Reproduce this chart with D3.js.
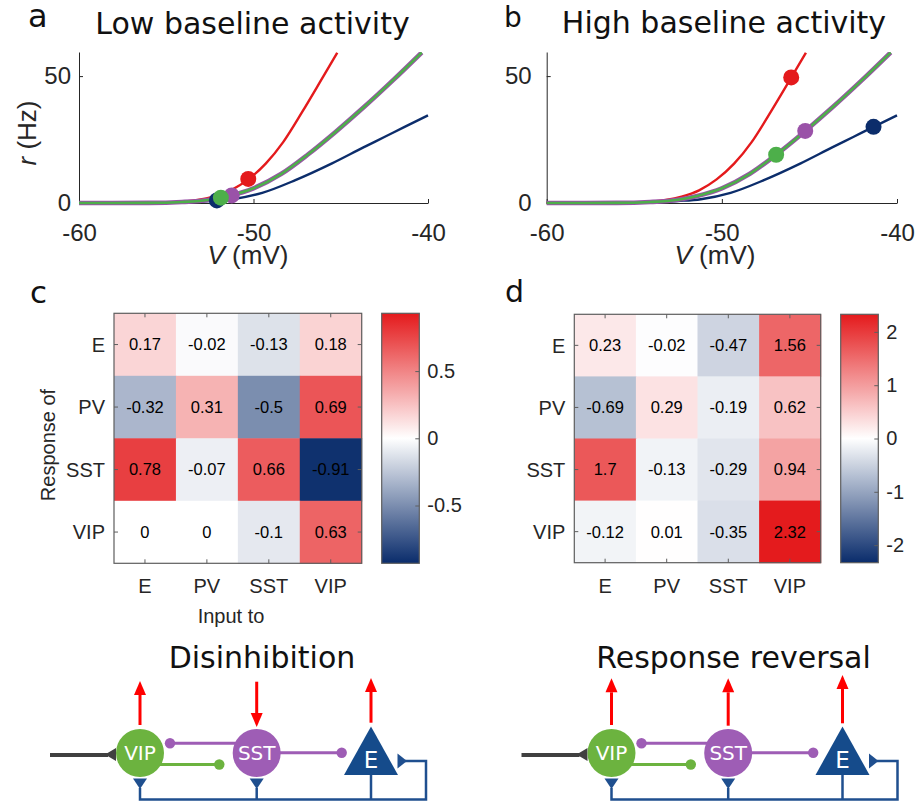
<!DOCTYPE html>
<html>
<head>
<meta charset="utf-8">
<script src="https://cdn.jsdelivr.net/npm/d3@7"></script>
<style>
  body { margin: 0; background: #fff; }
  svg { display: block; }
</style>
</head>
<body>
<div id="fig"></div>
<script>
// ---- data ----
const CELL_TYPES = ["E", "PV", "SST", "VIP"];
const TYPE_COLOR = { E: "#e41a1c", PV: "#0c2d6b", SST: "#9a52a8", VIP: "#4daf4a" };

// transfer curves r(V): voltage (mV) and rate (Hz)
const V_E = [-60, -56, -55, -54.2, -53.2, -52.3, -51.3, -50.3, -49.3, -48.3, -47.2, -46.1, -45.2];
const R_E = [0, 0.05, 0.15, 0.45, 1.2, 2.5, 5.0, 9.3, 15.5, 24.0, 36.0, 48.7, 59.2];
const V_PV = [-60, -56, -54, -52.5, -51.2, -49.5, -47.6, -45.5, -43.7, -42.5, -41.34, -40];
const R_PV = [0, 0.05, 0.3, 0.8, 1.5, 4, 9, 15.6, 21.9, 26, 30, 34.5];
const V_SST = [-60, -56, -54.1, -52.5, -51.4, -50, -48.4, -46.9, -45.3, -43.7, -42, -40.36];
const R_SST = [0, 0.05, 0.4, 1.3, 2.8, 5.8, 11.5, 19, 28, 37.6, 48.4, 59.3];
const V_VIP = [-60, -56, -54.1, -52.5, -51.4, -50, -48.4, -46.9, -45.3, -43.7, -42, -40.36];
const R_VIP = [0, 0.05, 0.4, 1.3, 2.8, 5.8, 11.5, 19, 28, 37.6, 48.4, 59.3];

// operating points (order: PV, SST, VIP, E -> drawing order)
const DOT_TYPES = ["PV", "SST", "VIP", "E"];
const LOW_V = [-52.1, -51.25, -51.87, -50.3];
const LOW_R = [1.0, 3.0, 2.1, 9.5];
const HIGH_V = [-41.34, -45.24, -46.9, -46.04];
const HIGH_R = [30.0, 28.4, 19.0, 49.5];

const V_TICKS = [-60, -50, -40];
const R_TICKS = [0, 50];

// response matrices: rows = response of, columns = input to
const LOW_MATRIX = [
  [0.17, -0.02, -0.13, 0.18],
  [-0.32, 0.31, -0.5, 0.69],
  [0.78, -0.07, 0.66, -0.91],
  [0, 0, -0.1, 0.63]
];
const HIGH_MATRIX = [
  [0.23, -0.02, -0.47, 1.56],
  [-0.69, 0.29, -0.19, 0.62],
  [1.7, -0.13, -0.29, 0.94],
  [-0.12, 0.01, -0.35, 2.32]
];
const LOW_CBAR_TICKS = [-0.5, 0, 0.5];
const HIGH_CBAR_TICKS = [-2, -1, 0, 1, 2];

const AXIS_COL = "#262626";
const SANS = "'Liberation Sans', Arial, sans-serif";
const DEJAVU = "'DejaVu Sans', sans-serif";

const svg = d3.select("#fig").append("svg")
  .attr("width", 915).attr("height", 805)
  .style("font-family", SANS);

const defs = svg.append("defs");

function texto(x, y, s, size, font, opts = {}) {
  return svg.append("text")
    .attr("x", x).attr("y", y)
    .attr("font-size", size)
    .attr("font-family", font)
    .attr("fill", opts.fill || "#111")
    .attr("text-anchor", opts.anchor || "start")
    .text(s);
}

// ---- panels a, b ----
function panelCurvas(left, right, yPad, dotsV, dotsR, clipId) {
  const x = d3.scaleLinear().domain([-60, -40]).range([left, right]);
  const y = d3.scaleLinear().domain([0, 59.5]).range([203, 52]);

  const gx = svg.append("g").attr("transform", "translate(0,203)")
    .call(d3.axisBottom(x).tickValues(V_TICKS).tickSizeInner(-4).tickSizeOuter(0)
      .tickPadding(21).tickFormat(d => String(d)));
  const gy = svg.append("g").attr("transform", `translate(${left},0)`)
    .call(d3.axisLeft(y).tickValues(R_TICKS).tickSizeInner(-4).tickSizeOuter(0)
      .tickPadding(yPad).tickFormat(d => String(d)));
  [gx, gy].forEach(g => {
    g.attr("font-family", SANS).attr("font-size", 24);
    g.selectAll("path, line").attr("stroke", AXIS_COL);
    g.selectAll("text").attr("fill", AXIS_COL);
  });

  defs.append("clipPath").attr("id", clipId)
    .append("rect").attr("x", left - 5).attr("y", 52).attr("width", right - left + 10).attr("height", 160);

  const linea = d3.line().x(d => x(d[0])).y(d => y(d[1])).curve(d3.curveMonotoneX);
  const curvas = [
    { t: "PV", v: V_PV, r: R_PV, w: 2.4 },
    { t: "E", v: V_E, r: R_E, w: 2.4 },
    { t: "SST", v: V_SST, r: R_SST, w: 4.6 },
    { t: "VIP", v: V_VIP, r: R_VIP, w: 2.6 }
  ];
  const gc = svg.append("g").attr("clip-path", `url(#${clipId})`);
  curvas.forEach(c => {
    gc.append("path")
      .attr("d", linea(c.v.map((v, i) => [v, c.r[i]])))
      .attr("fill", "none")
      .attr("stroke", TYPE_COLOR[c.t])
      .attr("stroke-width", c.w);
  });
  svg.append("g").selectAll("circle")
    .data(DOT_TYPES.map((t, i) => ({ t, v: dotsV[i], r: dotsR[i] })))
    .join("circle")
    .attr("cx", d => x(d.v)).attr("cy", d => y(d.r)).attr("r", 8)
    .attr("fill", d => TYPE_COLOR[d.t]);
  return x;
}

panelCurvas(79, 428, 8, LOW_V, LOW_R, "clipA");
panelCurvas(546.7, 897, 15, HIGH_V, HIGH_R, "clipB");

texto(252.5, 34, "Low baseline activity", 30, DEJAVU, { anchor: "middle" });
texto(724, 33, "High baseline activity", 30, DEJAVU, { anchor: "middle" });
texto(28, 27, "a", 32, DEJAVU);
texto(504, 27, "b", 28, DEJAVU);

[248, 715].forEach(cx => {
  const t = svg.append("text").attr("x", cx).attr("y", 264).attr("text-anchor", "middle")
    .attr("font-size", 26).attr("fill", AXIS_COL);
  t.append("tspan").attr("font-style", "italic").text("V");
  t.append("tspan").text(" (mV)");
});
const ry = svg.append("text").attr("transform", "translate(36,133) rotate(-90)")
  .attr("text-anchor", "middle").attr("font-size", 26).attr("fill", AXIS_COL);
ry.append("tspan").attr("font-style", "italic").text("r");
ry.append("tspan").text(" (Hz)");

// ---- panels c, d ----
function mapaCalor(matrix, box, cbar, clim, cbTicks, gradId) {
  const [x0, x1, y0, y1] = box;
  const xs = d3.scaleBand().domain(CELL_TYPES).range([x0, x1]);
  const ys = d3.scaleBand().domain(CELL_TYPES).range([y0, y1]);
  const color = d3.scaleLinear().domain([-clim, 0, clim])
    .range(["#0a2c6b", "#ffffff", "#e41a1c"]).clamp(true);

  const celdas = [];
  matrix.forEach((fila, i) => fila.forEach((v, j) => celdas.push({ row: CELL_TYPES[i], col: CELL_TYPES[j], v })));

  const g = svg.append("g");
  g.selectAll("rect.cell").data(celdas).join("rect")
    .attr("class", "cell")
    .attr("x", d => xs(d.col)).attr("y", d => ys(d.row))
    .attr("width", xs.bandwidth() + 0.5).attr("height", ys.bandwidth() + 0.5)
    .attr("fill", d => color(d.v));
  g.selectAll("text.val").data(celdas).join("text")
    .attr("class", "val")
    .attr("x", d => xs(d.col) + xs.bandwidth() / 2)
    .attr("y", d => ys(d.row) + ys.bandwidth() / 2)
    .attr("dy", "0.36em").attr("text-anchor", "middle")
    .attr("font-size", 16.5).attr("fill", "#000")
    .text(d => String(d.v));

  // box and inward ticks
  g.append("rect").attr("x", x0).attr("y", y0).attr("width", x1 - x0).attr("height", y1 - y0)
    .attr("fill", "none").attr("stroke", "#5e5e5e").attr("stroke-width", 1.2);
  CELL_TYPES.forEach(c => {
    const cx = xs(c) + xs.bandwidth() / 2, cy = ys(c) + ys.bandwidth() / 2;
    [[cx, y0, cx, y0 + 4], [cx, y1, cx, y1 - 4], [x0, cy, x0 + 4, cy], [x1, cy, x1 - 4, cy]].forEach(l => {
      g.append("line").attr("x1", l[0]).attr("y1", l[1]).attr("x2", l[2]).attr("y2", l[3])
        .attr("stroke", "#5e5e5e").attr("stroke-width", 1);
    });
    g.append("text").attr("x", x0 - 9).attr("y", cy).attr("dy", "0.36em")
      .attr("text-anchor", "end").attr("font-size", 20).attr("fill", AXIS_COL).text(c);
    g.append("text").attr("x", cx).attr("y", 593)
      .attr("text-anchor", "middle").attr("font-size", 20).attr("fill", AXIS_COL).text(c);
  });

  // colorbar
  const [cb0, cb1] = cbar;
  const grad = defs.append("linearGradient").attr("id", gradId)
    .attr("x1", 0).attr("y1", 0).attr("x2", 0).attr("y2", 1);
  d3.range(0, 1.0001, 0.05).forEach(o => {
    grad.append("stop").attr("offset", o).attr("stop-color", color(clim - o * 2 * clim));
  });
  g.append("rect").attr("x", cb0).attr("y", y0).attr("width", cb1 - cb0).attr("height", y1 - y0)
    .attr("fill", `url(#${gradId})`).attr("stroke", "#5e5e5e").attr("stroke-width", 1.2);
  const cy = d3.scaleLinear().domain([-clim, clim]).range([y1, y0]);
  const ga = g.append("g").attr("transform", `translate(${cb1},0)`)
    .call(d3.axisRight(cy).tickValues(cbTicks).tickSizeInner(-4).tickSizeOuter(0)
      .tickPadding(8).tickFormat(d => String(d)));
  ga.select(".domain").remove();
  ga.attr("font-family", SANS).attr("font-size", 20);
  ga.selectAll("line").attr("stroke", "#5e5e5e");
  ga.selectAll("text").attr("fill", AXIS_COL);
}

mapaCalor(LOW_MATRIX, [114, 361.7, 313.3, 563.3], [381.7, 419.3], 0.93, LOW_CBAR_TICKS, "gradC");
mapaCalor(HIGH_MATRIX, [574.3, 820.7, 314.3, 562.7], [840.7, 878.3], 2.33, HIGH_CBAR_TICKS, "gradD");

texto(30, 303, "c", 31, DEJAVU);
texto(505, 302, "d", 30, DEJAVU);
texto(231, 623, "Input to", 20, SANS, { anchor: "middle", fill: AXIS_COL });
svg.append("text").attr("transform", "translate(55,445) rotate(-90)")
  .attr("text-anchor", "middle").attr("font-size", 20).attr("fill", AXIS_COL).text("Response of");

// ---- circuit sketches ----
const NODE_X = { VIP: 140, SST: 256.7, E: 371 };
const NODE_Y = 753;
const CIRC_COL = { VIP: "#6cb33f", SST: "#9e5db5", E: "#154b8b", line: "#1f4f8f" };

function circuito(dx, titulo, arrowDir, tips) {
  const g = svg.append("g").attr("transform", `translate(${dx},0)`);
  const vip = NODE_X.VIP, sst = NODE_X.SST, e = NODE_X.E;

  g.append("text").attr("x", 262).attr("y", 668).attr("text-anchor", "middle")
    .attr("font-size", 30).attr("font-family", DEJAVU).attr("fill", "#111").text(titulo);

  // external input to VIP
  g.append("line").attr("x1", 50).attr("y1", 755).attr("x2", 108).attr("y2", 755)
    .attr("stroke", "#404040").attr("stroke-width", 4);
  g.append("polygon").attr("points", "105,754.5 116,748 116,761").attr("fill", "#404040");

  // feedback lines from E (bottom)
  const fb = CIRC_COL.line;
  g.append("path").attr("d", `M${vip},788 V799.5 H426 V761 H405`)
    .attr("fill", "none").attr("stroke", fb).attr("stroke-width", 2.5);
  g.append("path").attr("d", `M${sst},788 V799.5 M${e},775 V799.5`)
    .attr("fill", "none").attr("stroke", fb).attr("stroke-width", 2.5);
  [vip, sst].forEach(cx => {
    g.append("polygon").attr("points", `${cx - 7},778.5 ${cx + 7},778.5 ${cx},789`).attr("fill", fb);
  });
  g.append("polygon").attr("points", "397.5,753.5 397.5,768.5 407,761").attr("fill", fb);

  // inhibitory connections
  g.append("line").attr("x1", 170).attr("y1", 743.3).attr("x2", sst - 10).attr("y2", 743.3)
    .attr("stroke", CIRC_COL.SST).attr("stroke-width", 3);
  g.append("circle").attr("cx", 170).attr("cy", 743.3).attr("r", 5.2).attr("fill", CIRC_COL.SST);
  g.append("line").attr("x1", sst + 20).attr("y1", 752.7).attr("x2", 341.7).attr("y2", 752.7)
    .attr("stroke", CIRC_COL.SST).attr("stroke-width", 3);
  g.append("circle").attr("cx", 341.7).attr("cy", 752.7).attr("r", 5.2).attr("fill", CIRC_COL.SST);
  g.append("line").attr("x1", vip + 18).attr("y1", 764.5).attr("x2", 219.3).attr("y2", 764.5)
    .attr("stroke", CIRC_COL.VIP).attr("stroke-width", 3);
  g.append("circle").attr("cx", 219.3).attr("cy", 764.5).attr("r", 5.2).attr("fill", CIRC_COL.VIP);

  // cells
  g.append("circle").attr("cx", vip).attr("cy", NODE_Y).attr("r", 24).attr("fill", CIRC_COL.VIP);
  g.append("circle").attr("cx", sst).attr("cy", NODE_Y).attr("r", 24).attr("fill", CIRC_COL.SST);
  g.append("polygon").attr("points", `${e},726.5 ${e - 27},775 ${e + 27},775`).attr("fill", CIRC_COL.E);
  [["VIP", vip, 760, 20], ["SST", sst, 760, 20], ["E", e, 768, 23]].forEach(([s, x, y, fs]) => {
    g.append("text").attr("x", x).attr("y", y).attr("text-anchor", "middle")
      .attr("font-size", fs).attr("font-family", DEJAVU).attr("fill", "#fff").text(s);
  });

  // response arrows
  [vip, sst, e].forEach((x, i) => {
    const up = arrowDir[i] > 0;
    const [a, b] = tips[i];           // tail, tip
    const headLen = 14, hw = 6;
    const base = up ? b + headLen : b - headLen;
    g.append("line").attr("x1", x).attr("y1", a).attr("x2", x).attr("y2", base)
      .attr("stroke", "#ff0000").attr("stroke-width", 3);
    g.append("polygon").attr("points", `${x},${b} ${x - hw},${base} ${x + hw},${base}`).attr("fill", "#ff0000");
  });
}

circuito(0, "Disinhibition", [1, -1, 1], [[725, 681], [681.7, 727], [722.7, 678]]);
circuito(471.5, "Response reversal", [1, 1, 1], [[725, 678.3], [725.7, 678.3], [723.3, 675]]);
</script>
</body>
</html>
